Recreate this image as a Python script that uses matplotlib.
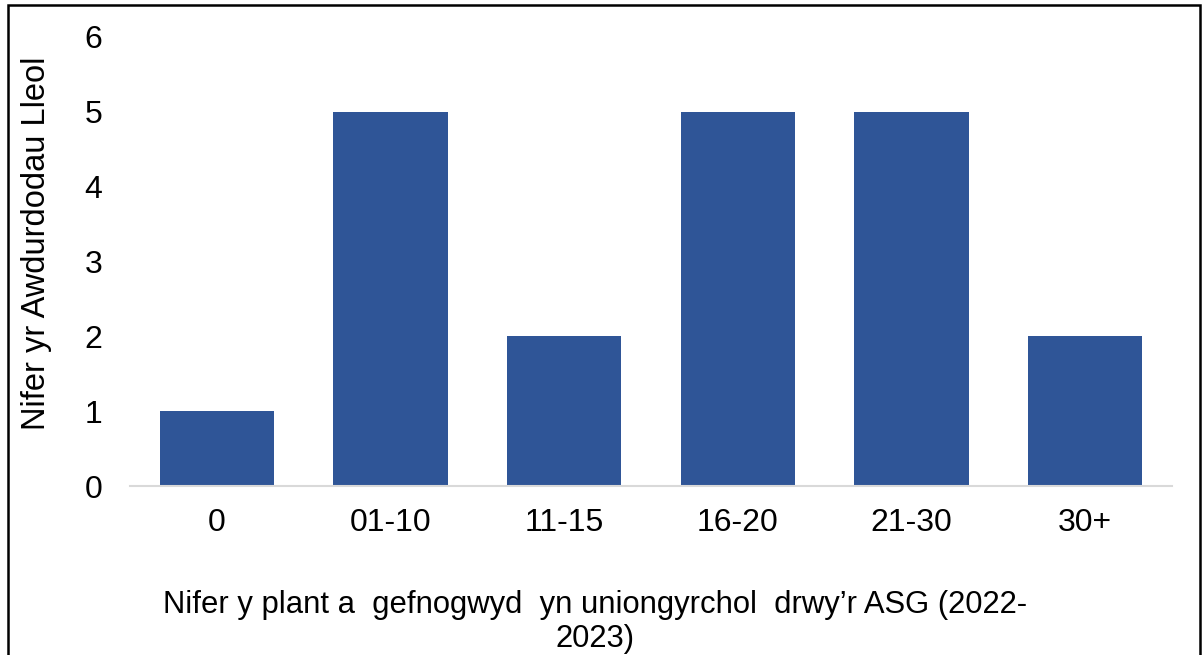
import matplotlib
matplotlib.use("Agg")
import matplotlib.pyplot as plt
from matplotlib.patches import Rectangle

categories = ["0", "01-10", "11-15", "16-20", "21-30", "30+"]
values = [1, 5, 2, 5, 5, 2]
yticks = [0, 1, 2, 3, 4, 5, 6]

plt.rcParams['font.family'] = ['Liberation Sans', 'DejaVu Sans']

W, H = 1203, 655
fig = plt.figure(figsize=(W/100, H/100), dpi=100)
ax = fig.add_axes([130/W, 1-486/H, (1172-130)/W, (486-37)/H])

x = range(len(categories))
ax.bar(x, values, width=0.66, color="#2F5597", zorder=2)
ax.set_xlim(-0.5, len(categories)-0.5)
ax.set_ylim(0, 6)
ax.set_yticks(yticks)
ax.set_xticks(list(x))
ax.set_xticklabels(categories)
for s in ["top", "right", "left"]:
    ax.spines[s].set_visible(False)
ax.spines["bottom"].set_color("#D9D9D9")
ax.spines["bottom"].set_linewidth(1.5)
ax.tick_params(axis="both", length=0, labelsize=23)
ax.tick_params(axis="x", pad=16)
ax.tick_params(axis="y", pad=20)

fig.text(37/W, 1-243/H, "Nifer yr Awdurdodau Lleol", rotation=90,
         ha="center", va="center", fontsize=23.5)
fig.text(595/W, 1-622/H, "Nifer y plant a  gefnogwyd  yn uniongyrchol  drwy\u2019r ASG (2022-\n2023)",
         ha="center", va="center", fontsize=22.3, linespacing=1.15)

fig.patches.append(Rectangle((8/W, -0.05), (1200-8)/W, 1.05-5/H,
                             transform=fig.transFigure, fill=False,
                             edgecolor="black", linewidth=1.8))

fig.savefig("out.png", dpi=100)
